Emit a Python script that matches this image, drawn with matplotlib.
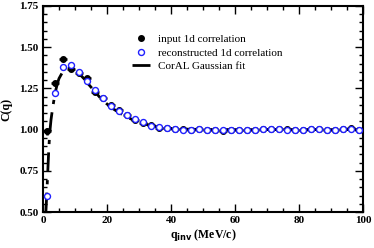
import numpy as np
import matplotlib.pyplot as plt
from matplotlib.ticker import MultipleLocator
from matplotlib.lines import Line2D

plt.rcParams['font.family'] = ['Liberation Serif', 'DejaVu Serif']

# bin centres (MeV/c)
q = [1.25 + 2.5 * i for i in range(40)]

# input 1d correlation
c_in = [0.99, 1.28, 1.43, 1.37, 1.345, 1.31, 1.23, 1.19, 1.15, 1.12,
        1.09, 1.06, 1.04, 1.025, 1.012, 1.008, 1.004, 1.002, 1.000, 1.001,
        0.998, 1.000, 0.992, 0.999, 1.000, 0.996, 0.998, 1.002, 1.004, 1.006,
        1.003, 1.000, 0.999, 1.002, 1.001, 0.998, 1.000, 1.002, 1.008, 1.000]
c_in_err = [0.02, 0.015, 0.012, 0.01, 0.01, 0.01, 0.008, 0.008, 0.008, 0.008,
            0.006, 0.006, 0.006, 0.006, 0.005, 0.005, 0.005, 0.005, 0.005, 0.005,
            0.005, 0.005, 0.005, 0.005, 0.005, 0.005, 0.005, 0.005, 0.005, 0.005,
            0.005, 0.005, 0.005, 0.005, 0.005, 0.005, 0.005, 0.005, 0.005, 0.005]

# reconstructed 1d correlation
c_rec = [0.60, 1.22, 1.38, 1.39, 1.35, 1.295, 1.24, 1.19, 1.143, 1.115,
         1.09, 1.064, 1.044, 1.024, 1.014, 1.008, 1.004, 1.000, 1.000, 1.001,
         1.000, 0.999, 0.998, 1.000, 1.000, 0.995, 0.999, 1.001, 1.002, 1.002,
         1.000, 1.000, 0.996, 1.001, 1.001, 0.999, 1.000, 1.001, 1.003, 0.999]

# CorAL Gaussian fit
q_fit = [0.9, 1.2, 1.5, 1.8, 2.1, 2.5, 3.0, 3.5, 4.0, 4.5, 5.0, 6.0, 7.0, 8.0,
         9.0, 10, 11, 12, 13, 14, 16, 18, 20, 22, 24, 26, 28, 30, 32, 34, 36,
         38, 40, 44, 50, 60, 100]
c_fit = [0.50, 0.62, 0.75, 0.88, 0.98, 1.06, 1.13, 1.19, 1.24, 1.28, 1.31,
         1.345, 1.365, 1.372, 1.37, 1.36, 1.345, 1.325, 1.305, 1.28, 1.235,
         1.19, 1.155, 1.125, 1.10, 1.078, 1.06, 1.045, 1.033, 1.023, 1.016,
         1.011, 1.007, 1.003, 1.001, 1.0, 1.0]

fig = plt.figure(figsize=(3.74, 2.48), dpi=100)
ax = fig.add_axes([0.115, 0.145, 0.856, 0.831])

ax.errorbar(q, c_in, xerr=1.25, yerr=c_in_err, fmt='o', color='black',
            ms=4, lw=1.8, capsize=0, zorder=3)
ax.plot(q_fit, c_fit, color='black', lw=2, dashes=(7, 3, 1.5, 3), zorder=4)
ax.plot(q, c_rec, 'o', mfc='white', mec='#2020ff', mew=1, ms=4.3, zorder=5)

ax.set_xlim(0, 100)
ax.set_ylim(0.5, 1.75)
ax.xaxis.set_major_locator(MultipleLocator(20))
ax.xaxis.set_minor_locator(MultipleLocator(5))
ax.yaxis.set_major_locator(MultipleLocator(0.25))
ax.yaxis.set_minor_locator(MultipleLocator(0.05))
ax.yaxis.set_major_formatter(plt.FormatStrFormatter('%.2f'))
ax.tick_params(which='both', direction='in', top=True, right=True, width=1)
ax.tick_params(which='major', length=6, labelsize=8, pad=3)
ax.tick_params(which='minor', length=3)
for lab in ax.get_xticklabels() + ax.get_yticklabels():
    lab.set_fontweight('bold')
for s in ax.spines.values():
    s.set_linewidth(1.5)

ax.set_xlabel(r'q$_{\mathbf{inv}}$ (MeV/c)', fontweight='bold', fontsize=8.5, labelpad=1)
ax.set_ylabel('C(q)', fontweight='bold', fontsize=8.5, labelpad=5)

handles = [Line2D([], [], ls='none', marker='o', color='black', ms=4),
           Line2D([], [], ls='none', marker='o', mfc='white', mec='#2020ff', mew=1, ms=4.3),
           Line2D([], [], color='black', lw=2, dashes=(7, 3, 1.5, 3))]
labels = ['input 1d correlation', 'reconstructed 1d correlation', 'CorAL Gaussian fit']
ax.legend(handles, labels, loc='upper left', bbox_to_anchor=(0.26, 0.89),
          frameon=False, fontsize=8, handlelength=1.6, handletextpad=0.8,
          labelspacing=0.35, borderpad=0)

fig.savefig('out.png', dpi=100)
